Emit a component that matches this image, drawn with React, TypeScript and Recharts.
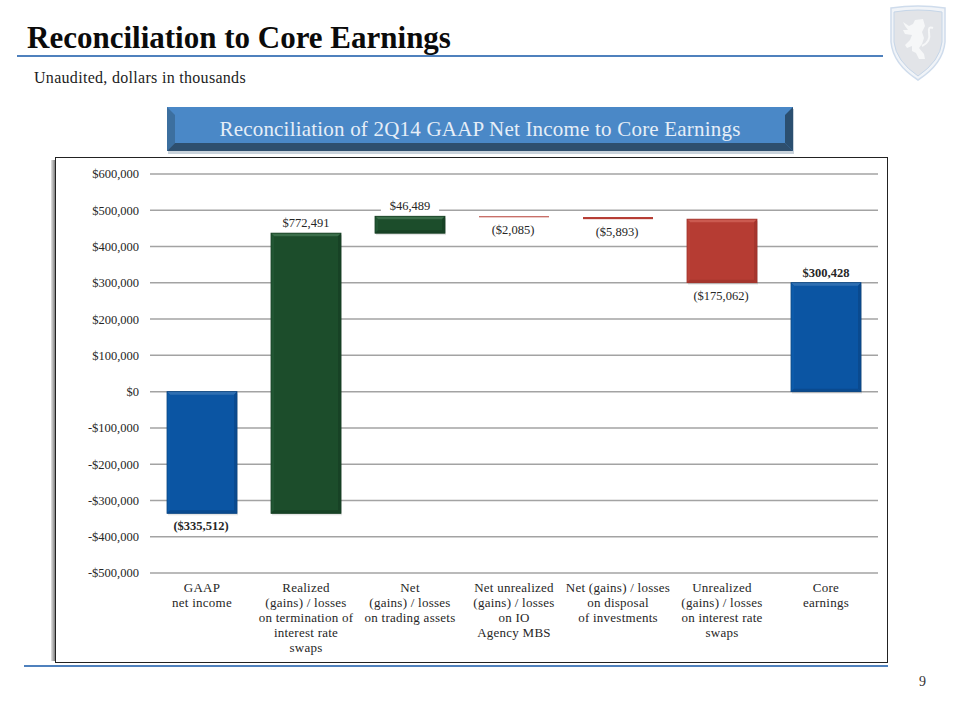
import React from "react";
import { BarChart, Bar, XAxis, YAxis, CartesianGrid, LabelList } from "recharts";

const categories = [
  ["GAAP", "net income"],
  ["Realized", "(gains) / losses", "on termination of", "interest rate", "swaps"],
  ["Net", "(gains) / losses", "on trading assets"],
  ["Net unrealized", "(gains) / losses", "on IO", "Agency MBS"],
  ["Net (gains) / losses", "on disposal", "of investments"],
  ["Unrealized", "(gains) / losses", "on interest rate", "swaps"],
  ["Core", "earnings"],
];
const lows = [-335512, -335512, 436979, 481383, 475490, 300428, 0];
const highs = [0, 436979, 483468, 483468, 481383, 475490, 300428];
const valueLabels = ["($335,512)", "$772,491", "$46,489", "($2,085)", "($5,893)", "($175,062)", "$300,428"];
const labelSides = ["below", "above", "above", "below", "below", "below", "above"];
const labelBold = [true, false, false, false, false, false, true];
const barKinds = ["blue", "green", "green", "red", "red", "red", "blue"];
const yTicks = [-500000, -400000, -300000, -200000, -100000, 0, 100000, 200000, 300000, 400000, 500000, 600000];

const palette: Record<string, { base: string; light: string; side: string; dark: string; edge: string }> = {
  blue: { base: "#0b55a3", light: "#2f6fb2", side: "#0c5aa9", dark: "#0a4a8f", edge: "#0c4682" },
  green: { base: "#1c4d2b", light: "#3b6e4a", side: "#215532", dark: "#174225", edge: "#173f23" },
  red: { base: "#b63c33", light: "#cb5a50", side: "#ba4137", dark: "#a5352d", edge: "#a0332b" },
};

const data = categories.map((c, i) => ({
  name: c.join(" "),
  lines: c,
  range: [lows[i], highs[i]],
  kind: barKinds[i],
  text: valueLabels[i],
  side: labelSides[i],
  bold: labelBold[i],
}));

const FONT = "'Liberation Serif', serif";

function BevelBar(props: any) {
  const { x, width, payload } = props;
  let { y, height } = props;
  if (height < 0) {
    y += height;
    height = -height;
  }
  const c = palette[payload.kind];
  const b = Math.min(3, height / 3);
  if (height < 4) {
    return <rect x={x} y={y} width={width} height={Math.max(height, 1)} fill={c.base} />;
  }
  const x2 = x + width;
  const y2 = y + height;
  return (
    <g>
      <rect x={x + 1} y={y + 2} width={width} height={height} fill="#000" opacity={0.1} />
      <rect x={x} y={y} width={width} height={height} fill={c.base} />
      <polygon points={`${x},${y} ${x2},${y} ${x2 - b},${y + b} ${x + b},${y + b}`} fill={c.light} />
      <polygon points={`${x},${y} ${x + b},${y + b} ${x + b},${y2 - b} ${x},${y2}`} fill={c.side} />
      <polygon points={`${x2},${y} ${x2 - b},${y + b} ${x2 - b},${y2 - b} ${x2},${y2}`} fill={c.dark} />
      <polygon points={`${x},${y2} ${x + b},${y2 - b} ${x2 - b},${y2 - b} ${x2},${y2}`} fill={c.dark} />
      <rect x={x} y={y} width={width} height={height} fill="none" stroke={c.edge} strokeWidth={0.8} />
    </g>
  );
}

function ValueLabel(props: any) {
  const { x, y, width, height, index } = props;
  const d = data[index];
  const top = height < 0 ? y + height : y;
  const bottom = height < 0 ? y : y + height;
  const cx = x + width / 2 - (d.side === "below" ? 1 : 0);
  const ty = d.side === "above" ? top - 10 : bottom + 13;
  const w = d.text.length * 6.6 + 12;
  return (
    <g>
      <rect x={cx - w / 2} y={ty - 8} width={w} height={16} fill="#fff" />
      <text x={cx} y={ty + 4} textAnchor="middle" fontFamily={FONT} fontSize={12.5}
        fontWeight={d.bold ? 700 : 400} fill="#262626">{d.text}</text>
    </g>
  );
}

function CategoryTick(props: any) {
  const { x, y, index } = props;
  const lines = categories[index] || [];
  return (
    <text x={x} y={y} textAnchor="middle" fontFamily={FONT} fontSize={13} letterSpacing={0.25} fill="#262626">
      {lines.map((l, i) => (
        <tspan key={i} x={x} dy={i === 0 ? 11 : 15}>{l}</tspan>
      ))}
    </text>
  );
}

const money = (v: number) => (v < 0 ? "-$" : "$") + Math.abs(v).toLocaleString("en-US");

function Crest() {
  return (
    <svg style={{ position: "absolute", left: 888, top: 4 }} width={60} height={78} viewBox="0 0 60 78">
      <path d="M3,4 Q30,0 57,4 L57,38 Q55,60 30,76 Q5,60 3,38 Z" fill="#f1f4f8" stroke="#cfdcec" strokeWidth={1.5} />
      <path d="M6,8 Q30,4 54,8 L54,38 Q52,57 30,72 Q8,57 6,38 Z" fill="#e2e4e8" stroke="#c6d6e8" strokeWidth={1} />
      <path d="M15,18 L21,22 L25,20 L27,16 L35,15 L37,22 L34,28 L36,34 L34,40 L31,44 L36,50 L37,55 L31,55 L28,49 L24,47 L24,42 L19,44 L17,41 L22,36 L24,31 L17,30 L15,26 L20,26 L17,22 Z" fill="#f6f7f8" />
      <path d="M34,42 Q43,38 41,28 Q40,22 45,24" fill="none" stroke="#f6f7f8" strokeWidth={2} />
    </svg>
  );
}

export default function App() {
  return (
    <div style={{ position: "absolute", left: 0, top: 0, width: 960, height: 720, background: "#fff", overflow: "hidden", fontFamily: FONT }}>
      <div style={{ position: "absolute", left: 27, top: 19, fontSize: 31, fontWeight: 700, color: "#0b0b0b", whiteSpace: "nowrap", lineHeight: "38px" }}>
        Reconciliation to Core Earnings
      </div>
      <div style={{ position: "absolute", left: 17, top: 55, width: 866, height: 2, background: "#4f81bd" }} />
      <div style={{ position: "absolute", left: 34, top: 68, fontSize: 16, color: "#1c1c1c", whiteSpace: "nowrap", lineHeight: "19px", letterSpacing: 0.3 }}>
        Unaudited, dollars in thousands
      </div>
      <Crest />

      <svg style={{ position: "absolute", left: 160, top: 100 }} width={645} height={60}>
        <rect x={8} y={9} width={626} height={45} fill="#c9d3dc" />
        <rect x={7} y={7} width={626} height={44} fill="#4a88c7" />
        <polygon points="7,7 15,15 15,43 7,51" fill="#3c6f9f" />
        <polygon points="633,7 625,15 625,43 633,51" fill="#2b4f70" />
        <polygon points="7,51 15,43 625,43 633,51" fill="#2e4f6e" />
        <text x={320} y={36} textAnchor="middle" fontFamily={FONT} fontSize={21} fill="#e6eef7" letterSpacing={0.2}>
          Reconciliation of 2Q14 GAAP Net Income to Core Earnings
        </text>
      </svg>

      <div style={{ position: "absolute", left: 24, top: 664.5, width: 864, height: 2, background: "#4f81bd" }} />
      <div style={{ position: "absolute", left: 51, top: 160, width: 4, height: 501, background: "linear-gradient(90deg,#e4e4e4,#7f7f7f)" }} />
      <div style={{ position: "absolute", left: 55, top: 157, width: 831, height: 504, border: "1px solid #222", background: "#fff", boxSizing: "content-box" }} />

      <div style={{ position: "absolute", left: 0, top: 0 }}>
        <BarChart width={960} height={720} data={data} barSize={70}
          margin={{ left: 70, right: 82, top: 174, bottom: 37 }}>
          <CartesianGrid horizontal vertical={false} stroke="#a3a3a3" strokeWidth={1.5} />
          <XAxis dataKey="name" axisLine={false} tickLine={false} height={110} interval={0} tick={<CategoryTick />} />
          <YAxis width={80} domain={[-500000, 600000]} ticks={yTicks} interval={0} axisLine={false} tickLine={false}
            tickFormatter={money} tick={{ fontFamily: FONT, fontSize: 12.5, fill: "#262626" }} tickMargin={5} />
          <Bar dataKey="range" isAnimationActive={false} shape={<BevelBar />}>
            <LabelList dataKey="text" content={<ValueLabel />} />
          </Bar>
        </BarChart>
      </div>

      <div style={{ position: "absolute", left: 919, top: 674, fontSize: 14, color: "#333" }}>9</div>
    </div>
  );
}
